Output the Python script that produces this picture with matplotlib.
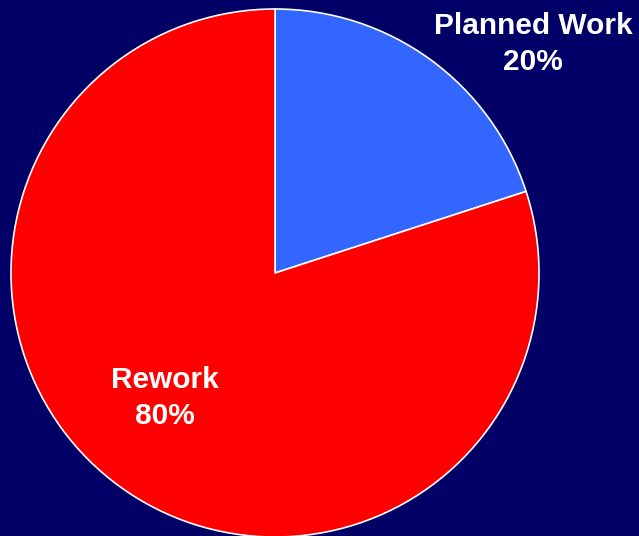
import matplotlib
matplotlib.use("Agg")
import matplotlib.pyplot as plt

labels = ["Planned Work", "Rework"]
values = [20, 80]
colors = ["#3366FF", "#FF0000"]
label_text = ["Planned Work\n20%", "Rework\n80%"]

W, H = 639, 536
fig = plt.figure(figsize=(W / 100, H / 100), dpi=100)
fig.patch.set_facecolor("#000066")
ax = fig.add_axes([0, 0, 1, 1])
ax.set_facecolor("#000066")

ax.pie(values, colors=colors, startangle=90, counterclock=False,
       center=(275, 263), radius=264, frame=True,
       wedgeprops=dict(edgecolor="white", linewidth=1.2))
ax.set_xlim(0, W)
ax.set_ylim(0, H)
ax.set_aspect("equal")
ax.axis("off")

pos = [(533, 492), (165, 138)]
for t, (x, y) in zip(label_text, pos):
    ax.text(x, y, t, ha="center", va="center", color="white",
            fontsize=21.5, fontweight="bold", family="Liberation Sans",
            linespacing=1.37)

fig.savefig("out.png", dpi=100, facecolor=fig.get_facecolor())
